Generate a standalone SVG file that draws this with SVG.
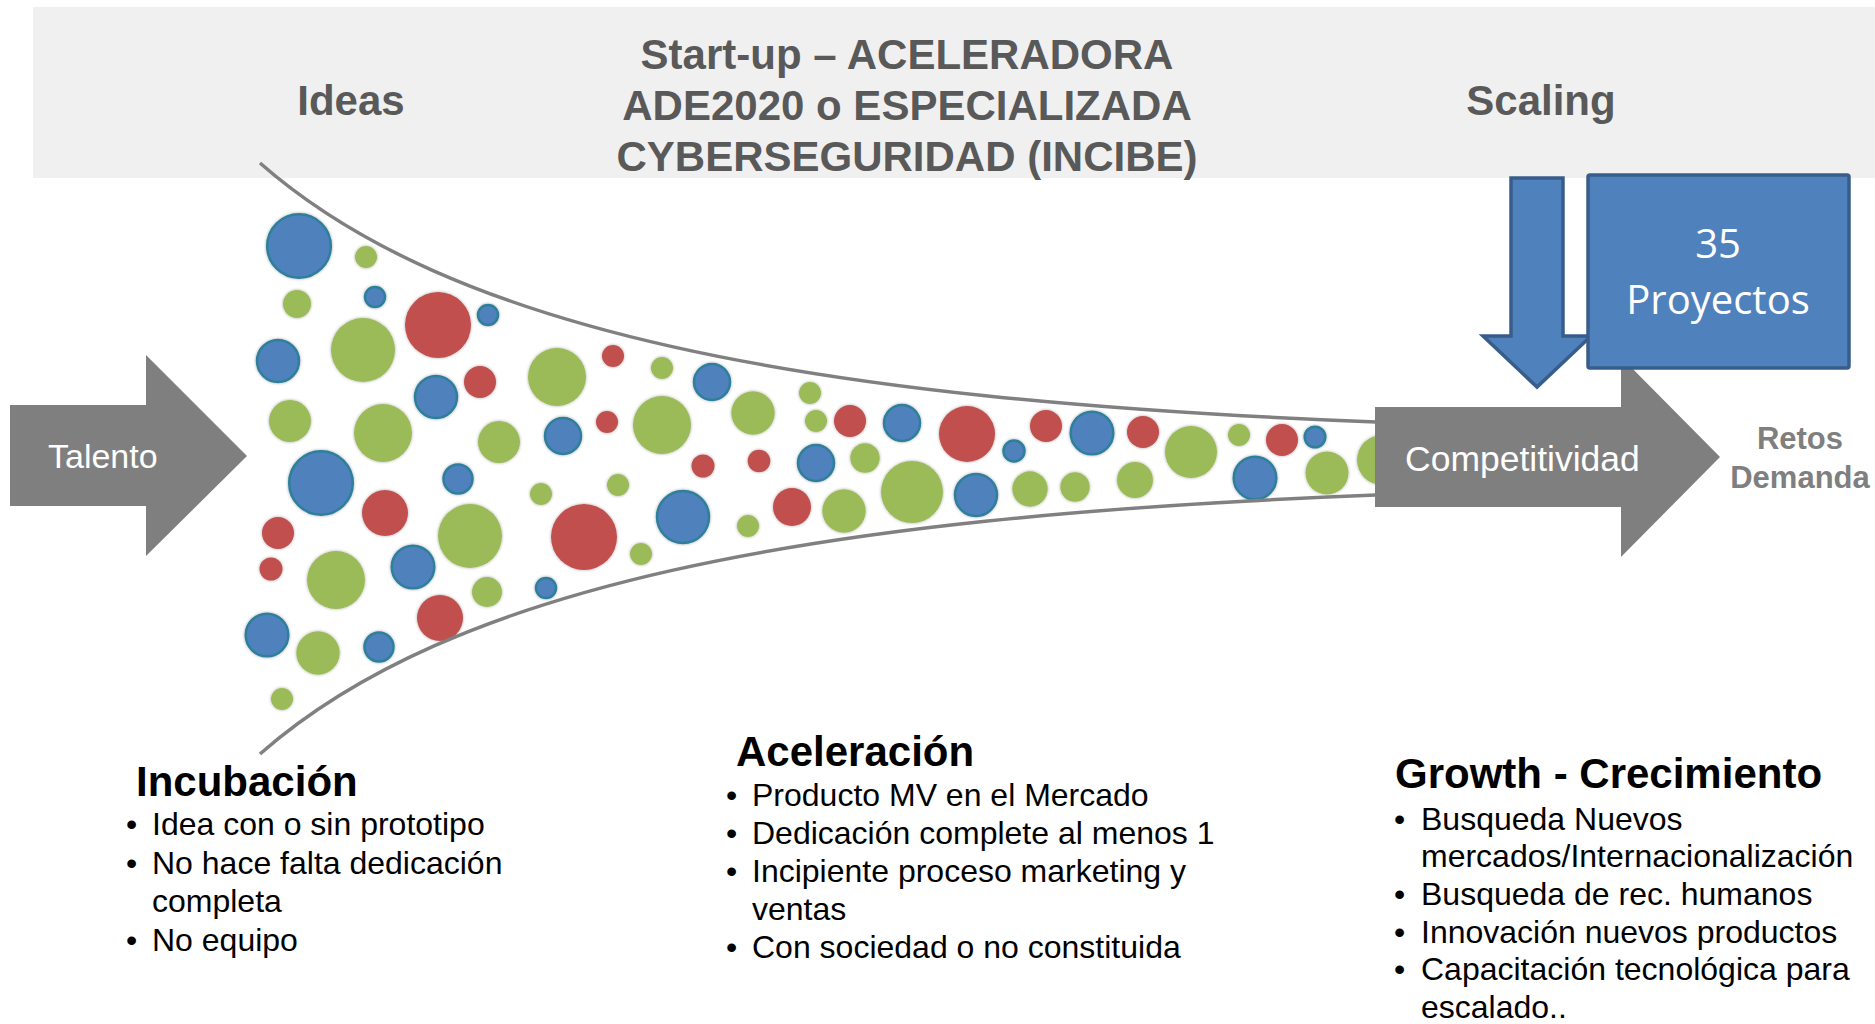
<svg xmlns="http://www.w3.org/2000/svg" width="1875" height="1024" viewBox="0 0 1875 1024">
<defs>
<style>
.hdr{font-family:"Liberation Sans",Arial,sans-serif;font-weight:bold;font-size:42px;fill:#595959;text-anchor:middle}
.arrow{fill:#7f7f7f}
.arrowtxt{font-family:"Liberation Sans",Arial,sans-serif;fill:#ffffff}
.funnel{fill:none;stroke:#808080;stroke-width:3.5}
.b{fill:#4f81bd;stroke:#2f7f9c;stroke-width:2.5}
.g{fill:#9bbb59}
.r{fill:#c0504d}
.bub{filter:url(#sh)}
.title{font-family:"Liberation Sans",Arial,sans-serif;font-weight:bold;font-size:42px;fill:#000000}
.list{font-family:"Liberation Sans",Arial,sans-serif;font-size:32px;fill:#000000}
.blue{fill:#4f81bd;stroke:#385d8a;stroke-width:3.5}
</style>
<filter id="sh" x="-20%" y="-20%" width="140%" height="140%">
<feDropShadow dx="0" dy="0" stdDeviation="1.6" flood-color="#000000" flood-opacity="0.35"/>
</filter>
</defs>
<rect width="1875" height="1024" fill="#ffffff"/>
<g id="header">
<rect x="33" y="7" width="1842" height="171" fill="#f0f0f0"/>
<text class="hdr" x="351" y="115">Ideas</text>
<text class="hdr" x="907" y="69">Start-up – ACELERADORA</text>
<text class="hdr" x="907" y="120">ADE2020 o ESPECIALIZADA</text>
<text class="hdr" x="907" y="171">CYBERSEGURIDAD (INCIBE)</text>
<text class="hdr" x="1541" y="115">Scaling</text>
</g>
<g id="bubbles" class="bub">
<circle class="b" cx="299" cy="246" r="31.8"/>
<circle class="b" cx="375" cy="297" r="10"/>
<circle class="b" cx="488" cy="315" r="10"/>
<circle class="b" cx="278" cy="361" r="21"/>
<circle class="b" cx="436" cy="397" r="21"/>
<circle class="b" cx="712" cy="382" r="18"/>
<circle class="b" cx="563" cy="436" r="18"/>
<circle class="b" cx="321" cy="483" r="31.8"/>
<circle class="b" cx="458" cy="479" r="14.5"/>
<circle class="b" cx="413" cy="567" r="21.3"/>
<circle class="b" cx="683" cy="517" r="26"/>
<circle class="b" cx="546" cy="588" r="10"/>
<circle class="b" cx="267" cy="635" r="21.3"/>
<circle class="b" cx="379" cy="647" r="14.5"/>
<circle class="b" cx="902" cy="423" r="18"/>
<circle class="b" cx="1014" cy="451" r="10.5"/>
<circle class="b" cx="1092" cy="433" r="21.3"/>
<circle class="b" cx="1315" cy="437" r="10.3"/>
<circle class="b" cx="1255" cy="478" r="21.3"/>
<circle class="b" cx="816" cy="463" r="18"/>
<circle class="b" cx="976" cy="495" r="21"/>
<circle class="g" cx="366" cy="257" r="11"/>
<circle class="g" cx="297" cy="304" r="14"/>
<circle class="g" cx="363" cy="350" r="32"/>
<circle class="g" cx="557" cy="377" r="29"/>
<circle class="g" cx="662" cy="368" r="11"/>
<circle class="g" cx="290" cy="421" r="21"/>
<circle class="g" cx="383" cy="433" r="29"/>
<circle class="g" cx="499" cy="442" r="21"/>
<circle class="g" cx="662" cy="425" r="29"/>
<circle class="g" cx="753" cy="413" r="21.7"/>
<circle class="g" cx="810" cy="393" r="11"/>
<circle class="g" cx="816" cy="421" r="11"/>
<circle class="g" cx="1191" cy="452" r="26"/>
<circle class="g" cx="1239" cy="435" r="11"/>
<circle class="g" cx="1327" cy="473" r="21.5"/>
<circle class="g" cx="1382" cy="460" r="25"/>
<circle class="g" cx="865" cy="458" r="14.7"/>
<circle class="g" cx="912" cy="492" r="31"/>
<circle class="g" cx="1030" cy="489" r="17.7"/>
<circle class="g" cx="1075" cy="487" r="14.7"/>
<circle class="g" cx="1135" cy="480" r="18"/>
<circle class="g" cx="844" cy="511" r="21.7"/>
<circle class="g" cx="748" cy="526" r="11"/>
<circle class="g" cx="336" cy="580" r="29"/>
<circle class="g" cx="470" cy="536" r="32"/>
<circle class="g" cx="541" cy="494" r="11"/>
<circle class="g" cx="618" cy="485" r="11"/>
<circle class="g" cx="641" cy="554" r="11"/>
<circle class="g" cx="487" cy="592" r="15"/>
<circle class="g" cx="318" cy="653" r="21.7"/>
<circle class="g" cx="282" cy="699" r="11"/>
<circle class="r" cx="438" cy="325" r="33"/>
<circle class="r" cx="480" cy="382" r="16"/>
<circle class="r" cx="613" cy="356" r="11"/>
<circle class="r" cx="607" cy="422" r="11"/>
<circle class="r" cx="385" cy="513" r="23"/>
<circle class="r" cx="278" cy="533" r="16"/>
<circle class="r" cx="271" cy="569" r="11.5"/>
<circle class="r" cx="584" cy="537" r="33"/>
<circle class="r" cx="703" cy="466" r="11.5"/>
<circle class="r" cx="440" cy="618" r="23"/>
<circle class="r" cx="850" cy="421" r="16"/>
<circle class="r" cx="967" cy="434" r="28"/>
<circle class="r" cx="1046" cy="426" r="16"/>
<circle class="r" cx="1143" cy="432" r="16"/>
<circle class="r" cx="1282" cy="440" r="16"/>
<circle class="r" cx="759" cy="461" r="11.3"/>
<circle class="r" cx="792" cy="507" r="19"/>
</g>
<g id="connectors">
<path class="funnel" d="M260,163 C450,330 800,400 1376,422"/>
<path class="funnel" d="M260,754 C450,587 800,517 1376,495"/>
</g>
<g id="talento">
<polygon class="arrow" points="10,405 146,405 146,355 247,456 146,556 146,506 10,506"/>
<text class="arrowtxt" x="48" y="468" font-size="34">Talento</text>
</g>
<g id="competitividad">
<polygon class="arrow" points="1375,407 1621,407 1621,357 1720,457 1621,557 1621,507 1375,507"/>
<text class="arrowtxt" x="1405" y="471" font-size="35.5">Competitividad</text>
</g>
<g id="retos">
<text x="1800" y="449" font-family="Liberation Sans, Arial, sans-serif" font-weight="bold" font-size="31" fill="#7f7f7f" text-anchor="middle">Retos</text>
<text x="1800" y="488" font-family="Liberation Sans, Arial, sans-serif" font-weight="bold" font-size="31" fill="#7f7f7f" text-anchor="middle">Demanda</text>
</g>
<g id="scaling-arrow">
<polygon class="blue" points="1511,178 1563,178 1563,336 1591,336 1537,387 1483,336 1511,336"/>
</g>
<g id="proyectos">
<rect class="blue" x="1588" y="175" width="261" height="193" rx="2"/>
<text x="1718" y="258" font-family="Open Sans, Liberation Sans, sans-serif" font-size="40" fill="#ffffff" text-anchor="middle">35</text>
<text x="1718" y="314" font-family="Open Sans, Liberation Sans, sans-serif" font-size="40" fill="#ffffff" text-anchor="middle">Proyectos</text>
</g>
<g id="incubacion">
<text class="title" x="136" y="796">Incubación</text>
<text class="list" x="126" y="835">•</text><text class="list" x="152" y="835">Idea con o sin prototipo</text>
<text class="list" x="126" y="874">•</text><text class="list" x="152" y="874">No hace falta dedicación</text>
<text class="list" x="152" y="912">completa</text>
<text class="list" x="126" y="951">•</text><text class="list" x="152" y="951">No equipo</text>
</g>
<g id="aceleracion">
<text class="title" x="736" y="766">Aceleración</text>
<text class="list" x="726" y="806">•</text><text class="list" x="752" y="806">Producto MV en el Mercado</text>
<text class="list" x="726" y="844">•</text><text class="list" x="752" y="844">Dedicación complete al menos 1</text>
<text class="list" x="726" y="882">•</text><text class="list" x="752" y="882">Incipiente proceso marketing y</text>
<text class="list" x="752" y="920">ventas</text>
<text class="list" x="726" y="958">•</text><text class="list" x="752" y="958">Con sociedad o no constituida</text>
</g>
<g id="growth">
<text class="title" x="1395" y="788">Growth - Crecimiento</text>
<text class="list" x="1394" y="830">•</text><text class="list" x="1421" y="830">Busqueda Nuevos</text>
<text class="list" x="1421" y="867">mercados/Internacionalización</text>
<text class="list" x="1394" y="905">•</text><text class="list" x="1421" y="905">Busqueda de rec. humanos</text>
<text class="list" x="1394" y="943">•</text><text class="list" x="1421" y="943">Innovación nuevos productos</text>
<text class="list" x="1394" y="980">•</text><text class="list" x="1421" y="980">Capacitación tecnológica para</text>
<text class="list" x="1421" y="1018">escalado..</text>
</g>
</svg>
